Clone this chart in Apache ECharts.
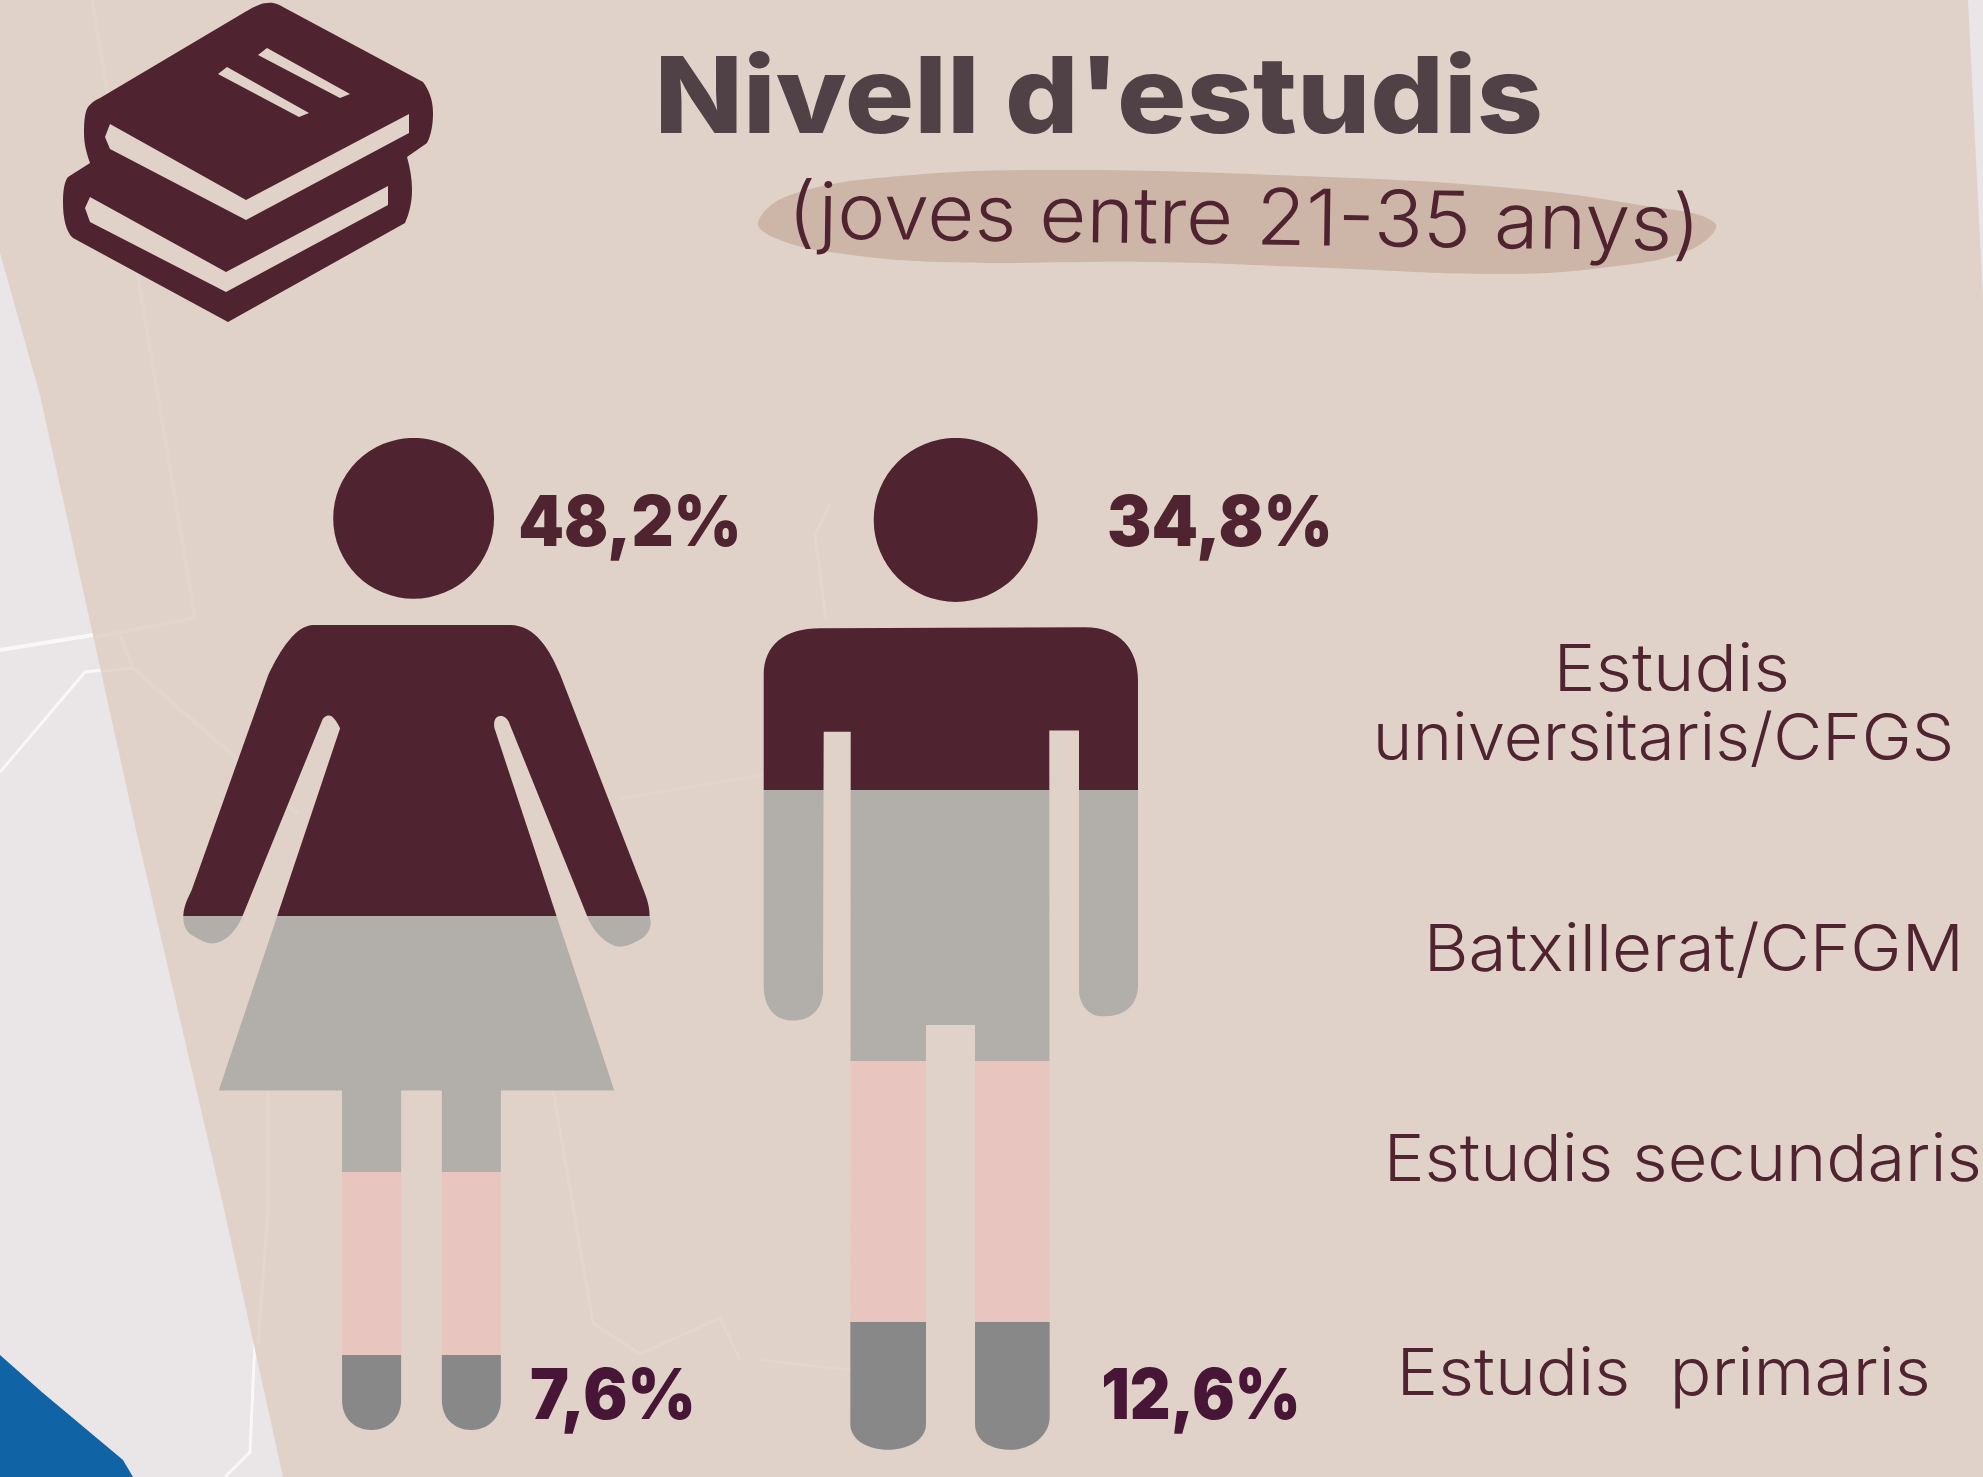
<!DOCTYPE html>
<html>
<head>
<meta charset="utf-8">
<style>html,body{margin:0;padding:0;background:#eae5e7}#c{width:1983px;height:1477px}</style>
<script src="https://cdn.jsdelivr.net/npm/echarts@6/dist/echarts.min.js"></script>
</head>
<body>
<div id="c"></div>
<script>
const titleText = "Nivell d'estudis";
const subtitleText = "(joves entre 21-35 anys)";
const levels = ['Estudis universitaris/CFGS', 'Batxillerat/CFGM', 'Estudis secundaris', 'Estudis  primaris'];
const dones = [48.2, 25.8, 18.4, 7.6];
const homes = [34.8, 26.8, 25.8, 12.6];
const colors = ['#4f2430', '#b2aeaa', '#e8c6bf', '#888888'];

const circle = (x, y, r) => `M${x - r},${y} A${r},${r} 0 1 1 ${x + r},${y} A${r},${r} 0 1 1 ${x - r},${y} Z `;
const womanPath = circle(413.5, 518.3, 80.4) +
  'M313.3,624.9 L510,624.9 C535,624.9 550,650 560,674.8 L643.3,890 C646,897 649.3,905 649.3,915.5 C652,925 650,932 641.7,938.6 C632,944 626,946.7 620,946.7 C610,946.7 594,935 586.7,915.5 L508.3,721.3 C505,716 502,716 500,716 C495,716 493,722 494.3,728.2 L614,1090.6 L500.7,1090.6 L500.7,1400 C500.7,1418 488,1430 471,1430 C454,1430 441.7,1418 441.7,1400 L441.7,1090.6 L401,1090.6 L401,1400 C401,1418 388,1430 371.5,1430 C354,1430 342,1418 342,1400 L342,1090.6 L218.7,1090.6 L340,728.2 C336,720 332,715.5 329,715.5 C325,715.5 323,718 321.7,721.3 L242.7,915.5 C236,932 224,943.4 211.7,943.4 C205,943.4 197,938 191.7,935 C185,930 183.3,925 183.3,915.5 C184,905 188,898 191.7,890 L268.3,674.8 C280,650 296,624.9 313.3,624.9 Z';
const manPath = circle(955.7, 520, 82) +
  'M820,628.4 L1085,627.3 C1120,627.3 1138,650 1138,680 L1138,985 C1138,1005 1125,1016.2 1105,1016.2 C1090,1018 1079,1005 1079,990 L1079,730.6 L1049.3,730.6 L1049.7,1417 C1049.7,1435 1032,1449.8 1010,1449.8 C990,1449.8 975,1440 975,1424 L975,1025 L926,1025 L926,1424 C926,1440 908,1449.8 888,1449.8 C868,1449.8 850.3,1440 850.3,1424 L850.7,731.7 L823.7,731.7 L823,990 C823,1010 810,1020.6 793,1020.6 C775,1020.6 763.7,1008 763.7,985 L763.7,675 C763.7,645 785,628.4 820,628.4 Z';
const bookPath = 'M270,2.7 C275,2.7 280,5 283,7 L423,82 C429,90 433,100 433,113 C433,125 431,135 427,143 L407,157 C410,168 412,178 412,190 C412,203 409,214 405,223 L228,322 L73,238 C66,232 63,218 63,203 C63,192 64,182 68,177 L90,163 C86,152 84,143 84,133 C84,120 85,112 88,107 C91,103 95,100 100,98 L245,12 C255,6 262,2.7 270,2.7 Z';

const chart = echarts.init(document.getElementById('c'), null, {renderer: 'canvas'});
const mctx = document.createElement('canvas').getContext('2d');

function fit(text, left, right, baseline, size, weight, color, rotation) {
  const font = `${weight} ${size}px Inter, "Noto Sans", sans-serif`;
  mctx.font = font;
  mctx.textAlign = 'left';
  mctx.textBaseline = 'middle';
  const m = mctx.measureText(text);
  const off = mctx.measureText('H').actualBoundingBoxDescent;
  const ink = m.actualBoundingBoxLeft + m.actualBoundingBoxRight;
  const sx = (right - left) / ink;
  return {
    type: 'text', x: left + m.actualBoundingBoxLeft * sx, y: baseline - off,
    scaleX: sx, rotation: rotation || 0,
    style: {text, font, fill: color, textAlign: 'left', textVerticalAlign: 'middle'}
  };
}
const fmt = v => String(v).replace('.', ',') + '%';

const beigeEdge = [[0,0],[1968,0],[1983,300],[1983,1477],[283,1477],[222,1200],[136,830],[40,395],[0,253]];
const blue = [[0,1355],[43,1393],[123,1460],[133,1477],[0,1477]];
const blob = [[758,222],[790,195],[900,176],[1068,170],[1300,176],[1500,187],[1640,205],[1715,223],[1690,250],[1600,268],[1497,274],[1330,268],[1154,262],[940,262],[830,252],[775,238]];
const bookHoles = [
  [[110,124],[246,200],[409,114],[409,133],[246,220],[110,149],[105,137]],
  [[90,197],[226,272],[388,186],[388,205],[226,292],[90,222],[85,208]],
  [[267,48],[350,94],[340,98],[258,55]],
  [[227,67],[309,113],[299,117],[218,74]]
];
const faint = [
  {p:[[92,0],[130,230],[195,618],[95,637]], o:.08, w:4},
  {p:[[120,635],[133,668],[237,759],[298,814]], o:.07, w:4},
  {p:[[95,672],[133,668]], o:.1, w:3},
  {p:[[268,1090],[268,1210],[258,1345]], o:.1, w:3},
  {p:[[553,1090],[593,1323],[640,1354],[720,1318],[740,1360]], o:.09, w:3},
  {p:[[620,799],[700,785],[765,775]], o:.08, w:3},
  {p:[[830,505],[815,535],[826,620]], o:.1, w:3},
  {p:[[760,1360],[850,1370]], o:.09, w:3}
];
const whiteLines = [
  {p:[[0,650],[93,635]], o:.7, w:4},
  {p:[[0,772],[85,672],[102,670]], o:.7, w:3},
  {p:[[255,1340],[250,1452],[225,1477]], o:.7, w:3}
];

const graphics = [
  {type:'rect', shape:{x:0,y:0,width:1983,height:1477}, style:{fill:'#eae5e7'}},
  {type:'polygon', shape:{points:blue}, style:{fill:'#1064a6'}},
  ...whiteLines.map(l => ({type:'polyline', shape:{points:l.p}, style:{stroke:'#fff', lineWidth:l.w, opacity:l.o, fill:null}})),
  {type:'polygon', shape:{points:beigeEdge}, style:{fill:'#e0d2c8'}},
  ...faint.map(l => ({type:'polyline', shape:{points:l.p}, style:{stroke:'#fff', lineWidth:l.w, opacity:l.o, fill:null}})),
  {type:'polygon', shape:{points:blob, smooth:0.4}, style:{fill:'#cdb6a7'}},
  fit(titleText, 661, 1540, 133, 106, 800, '#4f4145'),
  fit(subtitleText, 796, 1692, 238, 78, 300, '#4f2430', -0.014),
  fit(fmt(dones[0]), 520, 738, 546, 70, 900, '#4f2430'),
  fit(fmt(homes[0]), 1109, 1329, 546, 70, 900, '#4f2430'),
  fit(fmt(dones[3]), 531, 692, 1419, 70, 900, '#471535'),
  fit(fmt(homes[3]), 1104, 1297, 1419, 70, 900, '#471535'),
  fit(levels[0].split(' ')[0], 1560, 1786, 691, 65, 300, '#4f2430'),
  fit(levels[0].split(' ')[1], 1378, 1950, 760, 65, 300, '#4f2430'),
  fit(levels[1], 1430, 1958, 971, 65, 300, '#4f2430'),
  fit(levels[2], 1390, 1978, 1181, 65, 300, '#4f2430'),
  fit(levels[3], 1403, 1927, 1395, 65, 300, '#4f2430')
];

// one row per band: [level index, band start %, band end %]
function bands(values) {
  return values.map((v, i) => [i, values.slice(i + 1).reduce((a, b) => a + b, 0), values.slice(i).reduce((a, b) => a + b, 0)]);
}
function figure(values, pathData, name, gridIdx, cat) {
  return {
    type: 'custom', name, coordinateSystem: 'cartesian2d',
    xAxisIndex: gridIdx, yAxisIndex: gridIdx, silent: true, clip: false,
    animation: false, data: bands(values),
    renderItem(params, api) {
      const rect = api.coord([cat, 0]);
      const top = api.coord([cat, 100]);
      const lo = api.coord([cat, api.value(1)]);
      const hi = api.coord([cat, api.value(2)]);
      const size = api.size([1, 0]);
      const y0 = Math.round(hi[1]), y1 = Math.round(lo[1]);
      return {
        type: 'path',
        shape: {pathData, layout: 'cover', x: rect[0] - size[0] / 2, y: top[1], width: size[0], height: rect[1] - top[1]},
        style: {fill: colors[api.value(0)]},
        clipPath: {type: 'rect', shape: {x: rect[0] - size[0], y: y0, width: size[0] * 2, height: y1 - y0}}
      };
    }
  };
}
const bookSeries = {
  type: 'custom', name: 'llibres', coordinateSystem: 'none', silent: true, animation: false, data: [0],
  renderItem() {
    return {type: 'group', children: [
      {type: 'path', shape: {pathData: bookPath, layout: 'cover', x: 63, y: 2.7, width: 370, height: 319.3}, style: {fill: colors[0]}},
      ...bookHoles.map(h => ({type: 'polygon', shape: {points: h}, style: {fill: '#e0d2c8'}}))
    ]};
  }
};

chart.setOption({
  animation: false,
  backgroundColor: '#eae5e7',
  tooltip: {show: false},
  graphic: graphics,
  grid: [
    {left: 183.3, top: 437.9, width: 467.4, height: 992.1},
    {left: 763.7, top: 437.9, width: 374.3, height: 1011.9}
  ],
  xAxis: [
    {type: 'category', gridIndex: 0, data: ['Dones'], show: false},
    {type: 'category', gridIndex: 1, data: ['Homes'], show: false}
  ],
  yAxis: [
    {type: 'value', gridIndex: 0, min: 0, max: 100, show: false},
    {type: 'value', gridIndex: 1, min: 0, max: 100, show: false}
  ],
  series: [figure(dones, womanPath, 'Dones', 0, 'Dones'), figure(homes, manPath, 'Homes', 1, 'Homes'), bookSeries]
});
</script>
</body>
</html>
